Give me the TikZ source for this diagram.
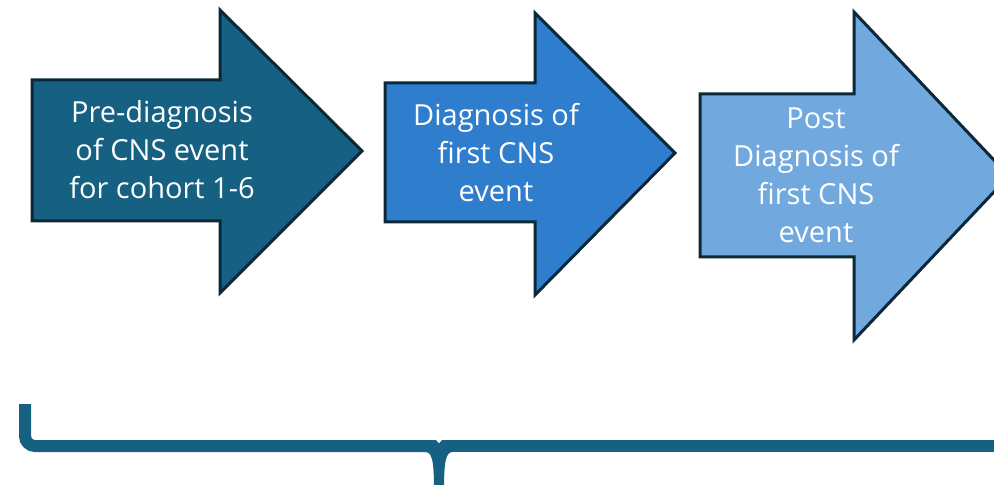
\documentclass[tikz,border=0pt]{standalone}
\usepackage{fontspec}
\setmainfont{Open Sans}
\definecolor{tealblue}{RGB}{22,96,130}
\definecolor{midblue}{RGB}{46,126,205}
\definecolor{paleblue}{RGB}{113,169,222}
\definecolor{edgeblue}{RGB}{12,40,56}
\tikzset{
  stagearrow/.style={draw=edgeblue, line width=3bp, line join=miter},
  stagetext/.style={anchor=north, inner sep=0pt, align=center, text=white,
    font=\fontsize{29bp}{38bp}\selectfont},
  bracestroke/.style={draw=tealblue, line width=12bp}
}
\newcommand{\lineht}{\rule{0pt}{25bp}}
\begin{document}
\begin{tikzpicture}[x=1bp, y=-1bp]
\useasboundingbox (0,0) rectangle (994,485);
\clip (0,0) rectangle (994,485);

% stage 1: pre-diagnosis
\draw[stagearrow, fill=tealblue]
  (32,80) -- (220,80) -- (220,10) -- (362,151) -- (220,293) -- (220,221) -- (32,221) -- cycle;
\node[stagetext] (pre) at (162,97)
  {\lineht Pre-diagnosis\\of CNS event\\for cohort 1-6};

% stage 2: diagnosis
\draw[stagearrow, fill=midblue]
  (385,83) -- (535,83) -- (535,13) -- (675,153) -- (535,295) -- (535,222) -- (385,222) -- cycle;
\node[stagetext] (diag) at (496,100)
  {\lineht Diagnosis of\\first CNS\\event};

% stage 3: post diagnosis
\draw[stagearrow, fill=paleblue]
  (700,94) -- (854,94) -- (854,12) -- (1009,176) -- (854,340) -- (854,257) -- (700,257) -- cycle;
\node[stagetext] (post) at (816,103)
  {\lineht Post\\Diagnosis of\\first CNS\\event};

% brace spanning the stages
\draw[bracestroke, rounded corners=10bp] (25,404) |- (430,446);
\draw[bracestroke] (448,446) -- (1000,446);
\fill[tealblue]
  (425,440) -- (436,440) -- (439,443.5) -- (442,440) -- (453,440)
  -- (453,452) .. controls (446,452) and (444,460) .. (444,490)
  -- (434,490) .. controls (434,460) and (432,452) .. (425,452) -- cycle;
\end{tikzpicture}
\end{document}
